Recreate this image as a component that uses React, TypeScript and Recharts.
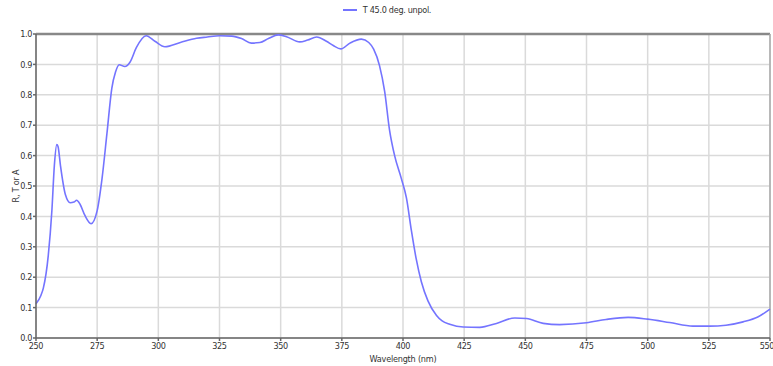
import { CartesianGrid, Legend, Line, LineChart, ReferenceLine, XAxis, YAxis } from "recharts";

// Transmittance at 45.0 deg, unpolarized, sampled along the wavelength axis
const wavelengths = [
  250, 252, 253, 255, 256.5, 257.5, 258.5, 259, 260, 262, 264, 265.5, 266.6, 268, 270, 272.5,
  275, 277, 279, 281, 282.5, 284, 286.3, 288.4, 291, 295, 298.6, 302.7, 309, 315.6, 320, 325,
  330, 334, 338, 341.5, 345, 349, 352.4, 357.8, 361, 364.7, 368.7, 371.5, 374.6, 378.3, 383,
  386, 388, 390.4, 392.5, 394.5, 396.6, 399.3, 401.4, 403.4, 405.4, 407.5, 410.2, 413.7, 416,
  419.1, 424.6, 431.4, 438.2, 445.7, 450.5, 457.3, 464, 475, 483, 492, 500, 509, 518.5, 525.3,
  532, 539, 545, 550,
];
const transmittance = [
  0.113, 0.14, 0.164, 0.27, 0.42, 0.567, 0.636, 0.63, 0.567, 0.472, 0.445, 0.447, 0.453, 0.44,
  0.403, 0.376, 0.419, 0.525, 0.673, 0.822, 0.875, 0.899, 0.893, 0.907, 0.955, 0.994, 0.976,
  0.958, 0.972, 0.986, 0.99, 0.994, 0.993, 0.985, 0.97, 0.972, 0.985, 0.997, 0.991, 0.974, 0.98,
  0.99, 0.976, 0.962, 0.951, 0.97, 0.983, 0.972, 0.95, 0.896, 0.811, 0.684, 0.599, 0.525, 0.461,
  0.355, 0.26, 0.185, 0.122, 0.074, 0.056, 0.045, 0.036, 0.035, 0.048, 0.066, 0.064, 0.048,
  0.044, 0.05, 0.061, 0.068, 0.062, 0.051, 0.039, 0.039, 0.042, 0.053, 0.069, 0.095,
];
const xTicks = [250, 275, 300, 325, 350, 375, 400, 425, 450, 475, 500, 525, 550];
const yTicks = [0, 0.1, 0.2, 0.3, 0.4, 0.5, 0.6, 0.7, 0.8, 0.9, 1.0];
const seriesName = "T 45.0 deg. unpol.";

const data = wavelengths.map((w, i) => ({ wl: w, t: transmittance[i] }));

const FONT = "'Liberation Sans Narrow', 'DejaVu Sans Condensed', 'Liberation Sans', sans-serif";
const LINE = "#7474ff";
const tickStyle = { fontSize: 9, fill: "#333", fontFamily: FONT, letterSpacing: -0.4 };

function LegendContent() {
  return (
    <div style={{ display: "flex", justifyContent: "center", alignItems: "center", fontFamily: FONT, fontSize: 9, color: "#333" }}>
      <svg width={17} height={6} style={{ marginRight: 4 }}>
        <line x1={1} y1={3} x2={15} y2={3} stroke={LINE} strokeWidth={2} />
      </svg>
      <span style={{ letterSpacing: -0.3 }}>{seriesName}</span>
    </div>
  );
}

export default function App() {
  return (
    <div style={{ position: "absolute", left: 0, top: 0, width: 773, height: 366, background: "#fff" }}>
      <LineChart width={773} height={366} data={data} margin={{ top: 24, right: 3, bottom: 0, left: 0 }}>
        <CartesianGrid stroke="#dadada" strokeWidth={1.5} />
        <XAxis
          dataKey="wl"
          type="number"
          domain={[250, 550]}
          ticks={xTicks}
          height={28}
          tickSize={3}
          tickMargin={2}
          stroke="#666"
          strokeWidth={1.5}
          tick={tickStyle}
          label={{ value: "Wavelength (nm)", position: "insideBottom", offset: 4, ...tickStyle, letterSpacing: -0.2 }}
        />
        <YAxis
          type="number"
          domain={[0, 1]}
          ticks={yTicks}
          width={36}
          tickSize={3}
          tickMargin={1}
          stroke="#666"
          strokeWidth={1.5}
          tickFormatter={(v: number) => v.toFixed(1)}
          tick={tickStyle}
          label={{ value: "R, T or A", angle: -90, position: "center", dx: -2, ...tickStyle, letterSpacing: -0.2 }}
        />
        <ReferenceLine y={1} stroke="#888" strokeWidth={2.5} />
        <ReferenceLine x={550} stroke="#aaa" strokeWidth={1.5} />
        <Legend verticalAlign="top" content={<LegendContent />} wrapperStyle={{ top: 5, left: 0, width: 773 }} />
        <Line
          type="monotone"
          dataKey="t"
          name={seriesName}
          stroke={LINE}
          strokeWidth={1.6}
          dot={false}
          isAnimationActive={false}
        />
      </LineChart>
    </div>
  );
}
